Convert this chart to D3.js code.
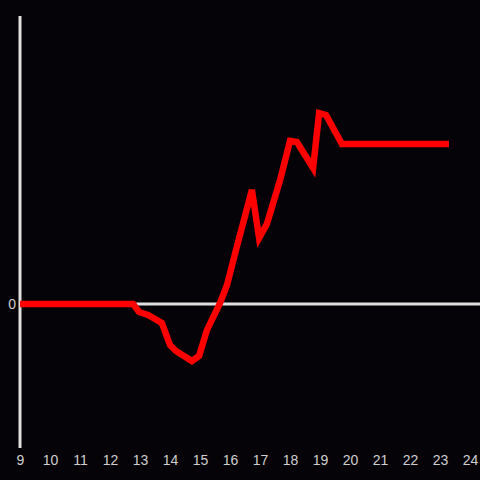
<!DOCTYPE html>
<html>
<head>
<meta charset="utf-8">
<script src="https://cdn.jsdelivr.net/npm/d3@7"></script>
<style>
  body { margin: 0; background: #050307; }
  svg { display: block; }
</style>
</head>
<body>
<div id="container"></div>
<script>
// time of day (hours) and value
const hours = [9, 12.77, 12.97, 13.27, 13.73, 14.0, 14.2, 14.73, 14.97, 15.23, 15.67, 15.9, 16.2, 16.73, 16.97, 17.23, 17.67, 18.0, 18.23, 18.77, 18.97, 19.2, 19.73, 23.3];
const values = [0, 0, -0.056, -0.076, -0.132, -0.285, -0.326, -0.396, -0.361, -0.181, 0.007, 0.132, 0.375, 0.792, 0.458, 0.556, 0.861, 1.132, 1.125, 0.944, 1.326, 1.313, 1.111, 1.111];
const xTicks = d3.range(9, 25);
const yTicks = [0];

const svgWidth = 480, svgHeight = 480;
const padLeft = 20, padTop = 16, padBottom = 448;

const svg = d3.select('#container')
  .append('svg')
  .attr('width', svgWidth)
  .attr('height', svgHeight)
  .style('background-color', '#050307');

const xScale = d3.scaleLinear().domain([9, 24]).range([padLeft, 470]);
const yScale = d3.scaleLinear().domain([-1, 2]).range([padBottom, padTop]);

// x labels
const xAxis = svg.append('g')
  .attr('transform', `translate(0,${padBottom})`)
  .call(d3.axisBottom(xScale).tickValues(xTicks).tickSize(0).tickPadding(7).tickFormat(d3.format('d')));
xAxis.select('.domain').remove();
xAxis.selectAll('text')
  .attr('fill', '#cfcfcf')
  .style('font-family', 'Liberation Sans, Arial, sans-serif')
  .style('font-size', '14px');

// y labels
const yAxis = svg.append('g')
  .attr('transform', `translate(${padLeft},0)`)
  .call(d3.axisLeft(yScale).tickValues(yTicks).tickSize(0).tickPadding(4).tickFormat(d3.format('d')));
yAxis.select('.domain').remove();
yAxis.selectAll('text')
  .attr('fill', '#cfcfcf')
  .style('font-family', 'Liberation Sans, Arial, sans-serif')
  .style('font-size', '14px');

// zero line
svg.append('line')
  .attr('x1', padLeft).attr('x2', svgWidth)
  .attr('y1', yScale(0)).attr('y2', yScale(0))
  .attr('stroke', '#e0e0e0')
  .attr('stroke-width', 3);

// y axis line
svg.append('line')
  .attr('x1', padLeft).attr('x2', padLeft)
  .attr('y1', padTop).attr('y2', padBottom)
  .attr('stroke', '#e0e0e0')
  .attr('stroke-width', 3);

const data = hours.map((h, i) => ({ x: h, y: values[i] }));

const line = d3.line()
  .x(d => xScale(d.x))
  .y(d => yScale(d.y));

svg.append('path')
  .datum(data)
  .attr('d', line)
  .attr('fill', 'none')
  .attr('stroke', '#ff0000')
  .attr('stroke-width', 6.5)
  .attr('stroke-linejoin', 'miter');
</script>
</body>
</html>
